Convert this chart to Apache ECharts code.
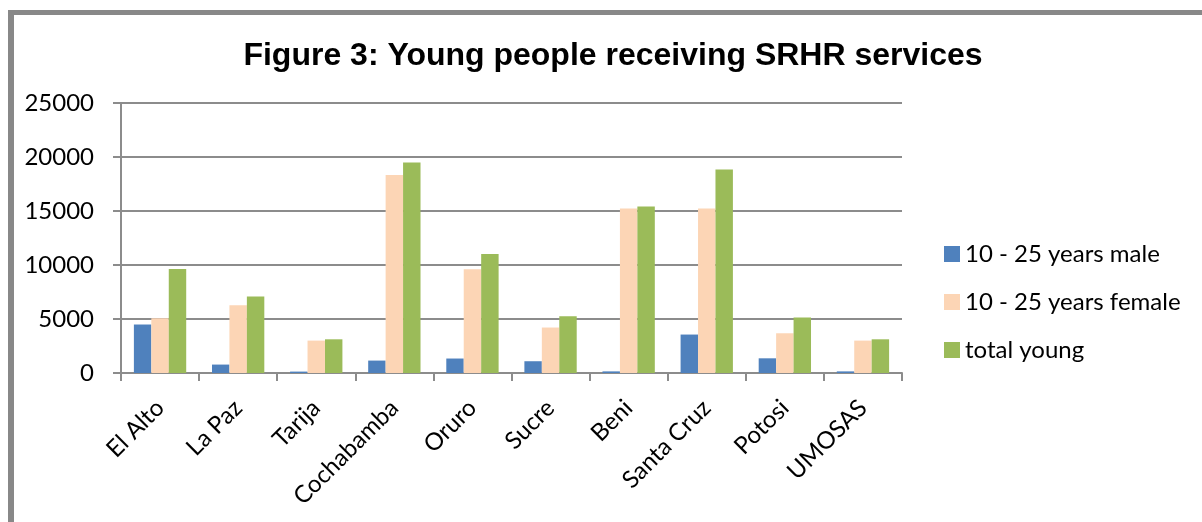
<!DOCTYPE html>
<html>
<head>
<meta charset="utf-8">
<script src="https://cdn.jsdelivr.net/npm/echarts@6/dist/echarts.min.js"></script>
<style>
  html, body { margin: 0; padding: 0; background: #fff; }
  #chart { width: 1202px; height: 522px; }
</style>
</head>
<body>
<div id="chart"></div>
<script>
// Sites reporting young people who received SRHR services
const categories = ['El Alto', 'La Paz', 'Tarija', 'Cochabamba', 'Oruro', 'Sucre', 'Beni', 'Santa Cruz', 'Potosi', 'UMOSAS'];
const male = [4490, 780, 130, 1150, 1340, 1090, 150, 3560, 1360, 150];
const female = [5070, 6280, 3000, 18330, 9610, 4210, 15240, 15240, 3680, 3000];
const totalYoung = [9640, 7080, 3120, 19500, 11030, 5260, 15420, 18850, 5140, 3120];
const seriesNames = ['10 - 25 years male', '10 - 25 years female', 'total young'];
const yTicks = { min: 0, max: 25000, interval: 5000 };

const chart = echarts.init(document.getElementById('chart'), null, { renderer: 'canvas' });
const gridLine = { color: '#8c8c8c', width: 2 };
const labelFont = 'Lato, "Open Sans", sans-serif';

chart.setOption({
  animation: false,
  backgroundColor: '#ffffff',
  title: {
    text: 'Figure 3: Young people receiving SRHR services',
    left: 608,
    textAlign: 'center',
    top: 35,
    textStyle: { fontFamily: '"Liberation Sans", Arial, sans-serif', fontWeight: 'bold', fontSize: 32, color: '#000' }
  },
  legend: {
    orient: 'vertical',
    left: 944,
    top: 242,
    padding: 0,
    itemWidth: 16,
    itemHeight: 16,
    itemGap: 24,
    icon: 'rect',
    textStyle: { fontFamily: labelFont, fontSize: 24, color: '#000' },
    data: seriesNames
  },
  grid: { left: 121, right: 300, top: 103, bottom: 149 },
  xAxis: {
    type: 'category',
    data: categories,
    axisLine: { lineStyle: gridLine },
    axisTick: { show: true, length: 8, lineStyle: gridLine },
    axisLabel: { rotate: 45, margin: 31, fontFamily: labelFont, fontSize: 24, color: '#000', interval: 0 }
  },
  yAxis: {
    type: 'value',
    min: yTicks.min,
    max: yTicks.max,
    interval: yTicks.interval,
    axisLine: { show: true, lineStyle: gridLine },
    axisTick: { show: true, length: 8, lineStyle: gridLine },
    splitLine: { lineStyle: gridLine },
    axisLabel: { margin: 27, fontFamily: labelFont, fontSize: 24, color: '#000', formatter: (v) => String(v) }
  },
  series: [
    { name: seriesNames[0], type: 'bar', data: male, itemStyle: { color: '#4f81bd' }, barGap: '0%', barCategoryGap: '33%' },
    { name: seriesNames[1], type: 'bar', data: female, itemStyle: { color: '#fcd5b5' }, barGap: '0%', barCategoryGap: '33%' },
    { name: seriesNames[2], type: 'bar', data: totalYoung, itemStyle: { color: '#9bbb59' }, barGap: '0%', barCategoryGap: '33%' }
  ],
  graphic: [
    // outer frame of the chart box (top and left edges)
    { type: 'rect', silent: true, z: 100, shape: { x: 8, y: 10, width: 1194, height: 5 }, style: { fill: '#888888' } },
    { type: 'rect', silent: true, z: 100, shape: { x: 8, y: 10, width: 6, height: 512 }, style: { fill: '#888888' } }
  ]
});
</script>
</body>
</html>
